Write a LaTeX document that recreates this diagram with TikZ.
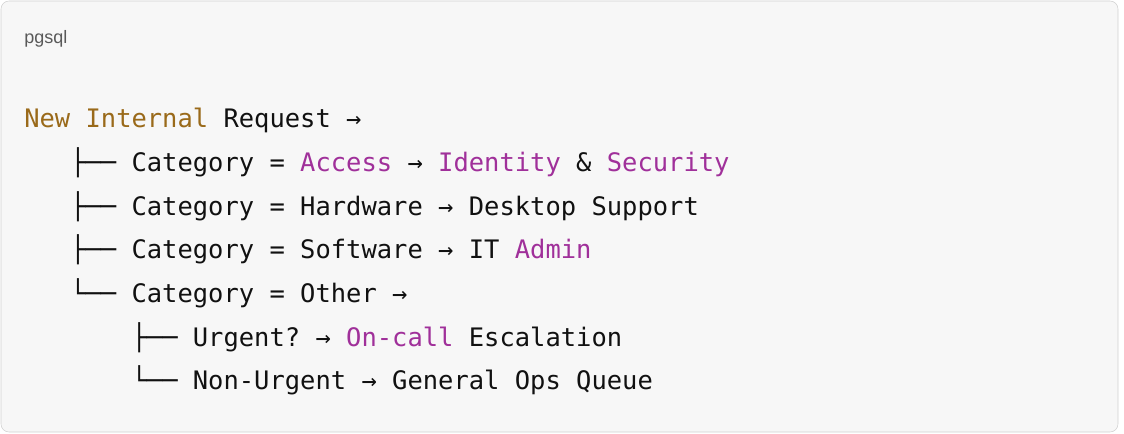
\documentclass[tikz,border=0pt]{standalone}
\usepackage{fontspec}
\setmonofont{DejaVu Sans Mono}
\setsansfont{Liberation Sans}
\definecolor{kw}{HTML}{A0309A}
\definecolor{ty}{HTML}{9A6A1A}
\definecolor{txt}{HTML}{111111}
\begin{document}
\begin{tikzpicture}[x=0.75pt,y=-0.75pt,
  codeline/.style={anchor=base west,inner sep=0pt,font=\ttfamily\fontsize{19.1}{22}\selectfont,text=txt}]
\useasboundingbox (0,0) rectangle (1124,434);
\draw[draw=black!18,fill=black!3,rounded corners=6] (1,1) rectangle (1118,432);
\node[anchor=base west,inner sep=0pt,font=\sffamily\fontsize{13.5}{15}\selectfont,text=black!65] (lang) at (24,44) {pgsql};
\node[codeline] (l1) at (24,128) {\textcolor{ty}{New Internal} Request →};
\node[codeline] (l2) at (24,172) {\ \ \ ├── Category = \textcolor{kw}{Access} → \textcolor{kw}{Identity} \& \textcolor{kw}{Security}};
\node[codeline] (l3) at (24,216) {\ \ \ ├── Category = Hardware → Desktop Support};
\node[codeline] (l4) at (24,259) {\ \ \ ├── Category = Software → IT \textcolor{kw}{Admin}};
\node[codeline] (l5) at (24,303) {\ \ \ └── Category = Other →};
\node[codeline] (l6) at (24,347) {\ \ \ \ \ \ \ ├── Urgent? → \textcolor{kw}{On-call} Escalation};
\node[codeline] (l7) at (24,390) {\ \ \ \ \ \ \ └── Non-Urgent → General Ops Queue};
\end{tikzpicture}
\end{document}
